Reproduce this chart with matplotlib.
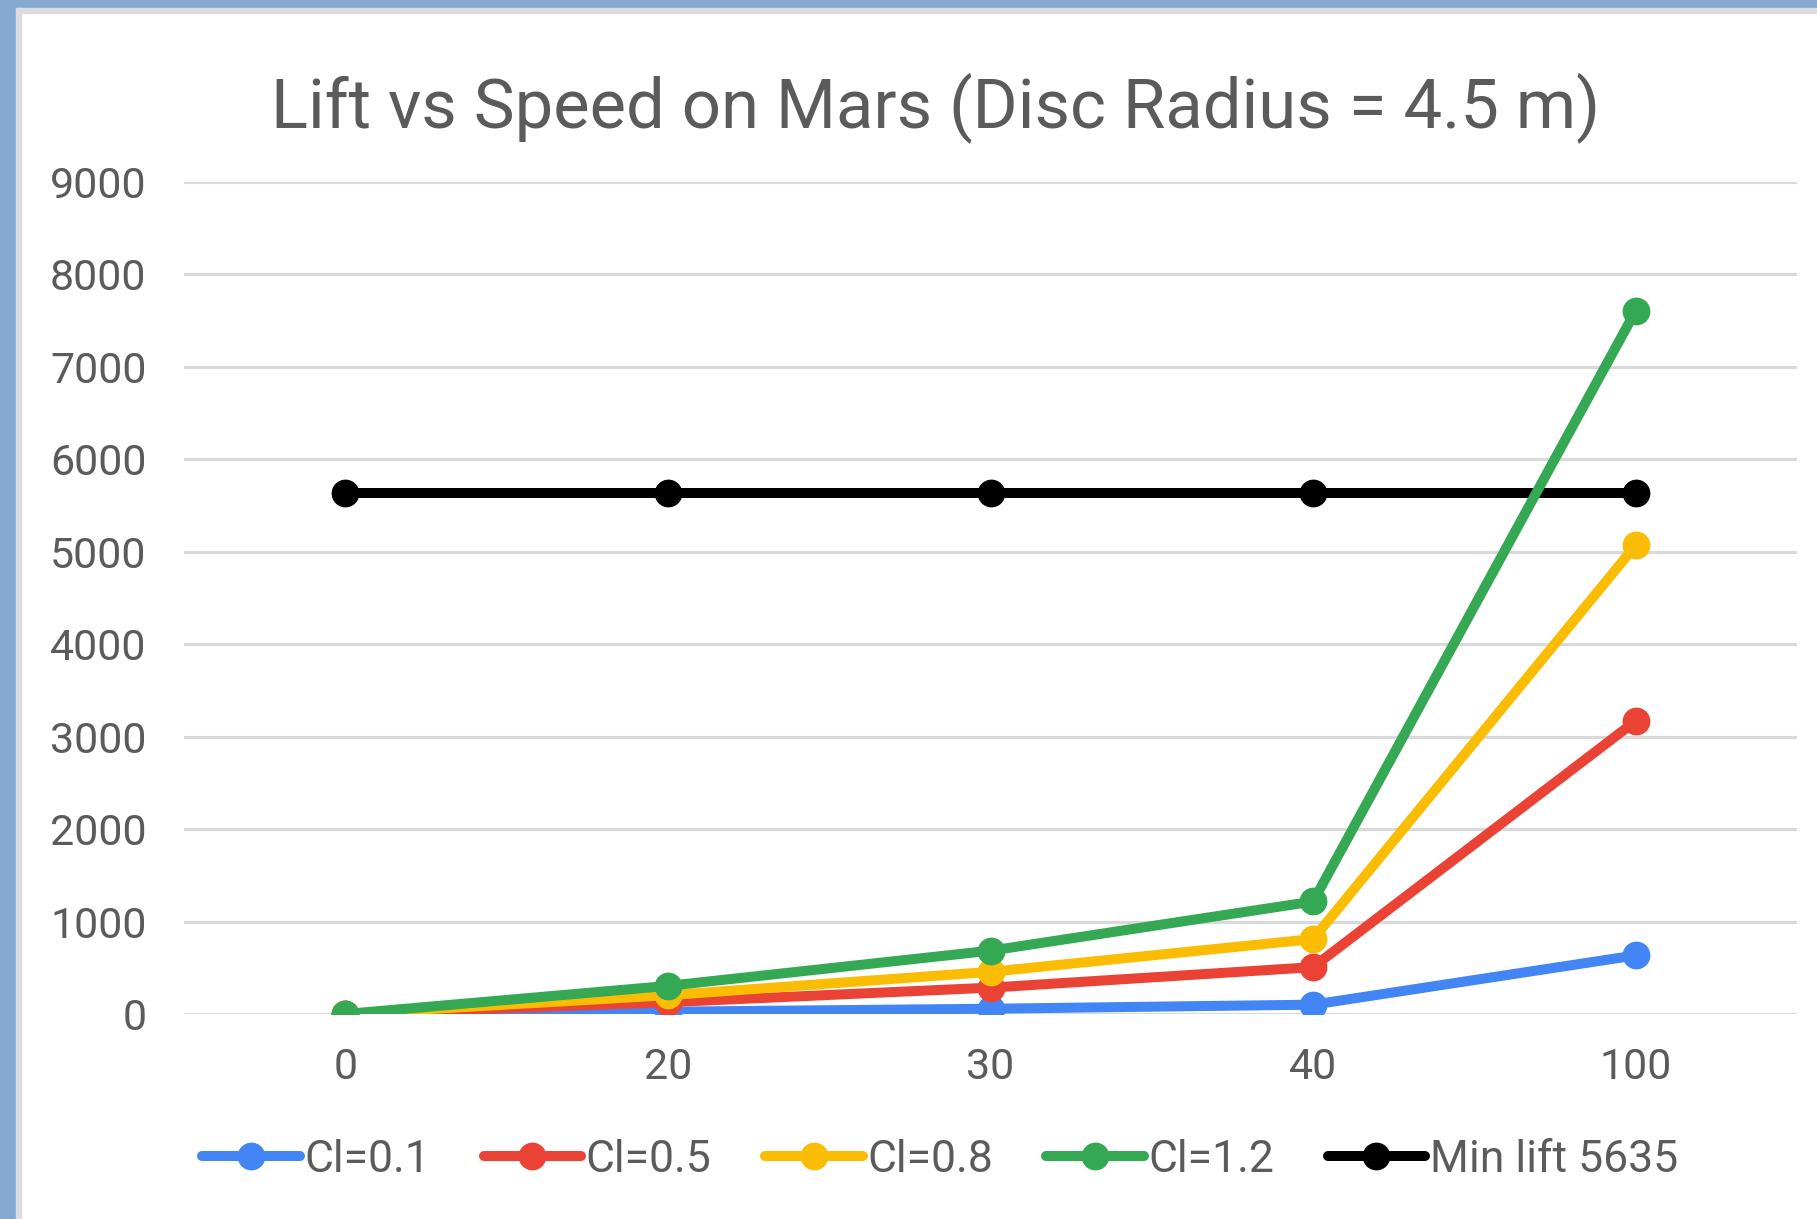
import matplotlib
matplotlib.use("Agg")
import matplotlib.pyplot as plt
from matplotlib.patches import Rectangle

plt.rcParams['font.family'] = ['Roboto', 'DejaVu Sans']

speeds = ["0", "20", "30", "40", "100"]
cl_01 = [0, 25, 57, 101, 634]
cl_05 = [0, 127, 285, 507, 3170]
cl_08 = [0, 203, 456, 811, 5071]
cl_12 = [0, 304, 685, 1217, 7607]
min_lift = [5635, 5635, 5635, 5635, 5635]

series = [
    ("Cl=0.1", cl_01, "#4285f4"),
    ("Cl=0.5", cl_05, "#ea4335"),
    ("Cl=0.8", cl_08, "#fbbc04"),
    ("Cl=1.2", cl_12, "#34a853"),
    ("Min lift 5635", min_lift, "#000000"),
]
txt = "#5b5b5b"

W, H = 1817, 1219
fig = plt.figure(figsize=(W / 100, H / 100), dpi=100)

# frame around the chart (blue band left/top, thin gray edge)
fig.patches.append(Rectangle((0, 0), 1, 1, transform=fig.transFigure, color="white", zorder=-3))
fig.patches.append(Rectangle((0, 0), 16 / W, 1, transform=fig.transFigure, color="#85a9d1", zorder=-2))
fig.patches.append(Rectangle((0, 1 - 8 / H), 1, 8 / H, transform=fig.transFigure, color="#85a9d1", zorder=-2))
fig.patches.append(Rectangle((16 / W, 0), 5 / W, 1 - 8 / H, transform=fig.transFigure, color="#dcdcdc", zorder=-2))
fig.patches.append(Rectangle((16 / W, 1 - 13 / H), 1, 5 / H, transform=fig.transFigure, color="#dcdcdc", zorder=-2))

ax = fig.add_axes([184 / W, 1 - 1014 / H, (1797 - 184) / W, (1014 - 182) / H])
ax.set_facecolor("none")

x = list(range(len(speeds)))
zs = {"Min lift 5635": 2}
for i, (name, vals, col) in enumerate(series):
    ax.plot(x, vals, color=col, lw=7.2, marker="o", ms=19, label=name,
            zorder=zs.get(name, 3 + i), solid_capstyle="round")

ax.set_xlim(-0.5, 4.5)
ax.set_ylim(0, 9000)
ax.set_yticks(range(0, 9001, 1000))
ax.set_xticks(x)
ax.set_xticklabels(speeds)
ax.grid(axis="y", color="#d9d9d9", lw=2.3)
ax.set_axisbelow(True)
for s in ax.spines.values():
    s.set_visible(False)
ax.tick_params(length=0, labelsize=31, colors=txt)
ax.tick_params(axis="y", pad=27)
ax.tick_params(axis="x", pad=24)

fig.text(936 / W, 1 - 108 / H, "Lift vs Speed on Mars (Disc Radius = 4.5 m)",
         ha="center", va="center", fontsize=49.5, color=txt)

leg = fig.legend(loc="center", bbox_to_anchor=(940 / W, 1 - 1160 / H), ncol=5,
                 frameon=False, fontsize=32, handlelength=2.2, handletextpad=0.1,
                 columnspacing=1.2, labelcolor=txt)

fig.savefig("out.png", dpi=100)
